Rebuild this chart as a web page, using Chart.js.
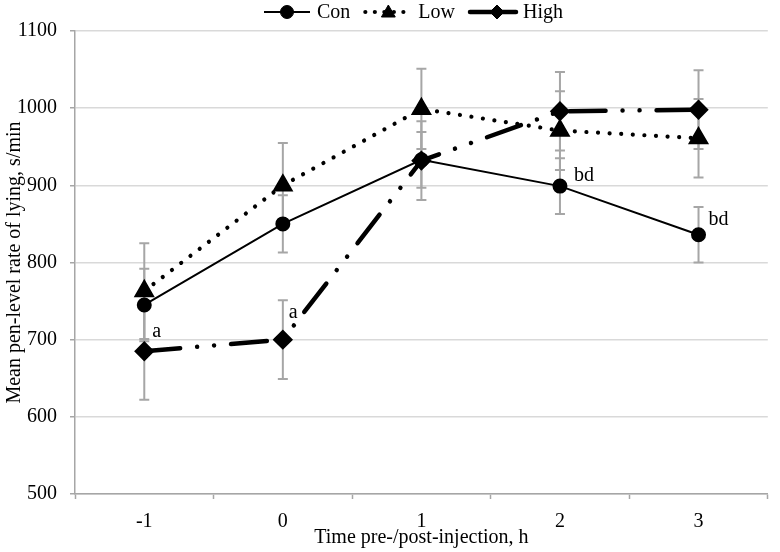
<!DOCTYPE html>
<html>
<head>
<meta charset="utf-8">
<script src="https://cdn.jsdelivr.net/npm/chart.js@4/dist/chart.umd.min.js"></script>
<style>
  html, body { margin: 0; padding: 0; background: #ffffff; }
  #wrap { width: 780px; height: 552px; position: relative; }
</style>
</head>
<body>
<div id="wrap"><canvas id="c" width="780" height="552"></canvas></div>
<script>
// ---- data ----
const timeLabels = ['-1', '0', '1', '2', '3'];
const seriesNames = ['Con', 'Low', 'High'];
const conValues  = [745, 850, 933, 899, 836];
const lowValues  = [763, 900, 999, 971, 961];
const highValues = [685, 700, 932, 996, 998];
const conErrors  = [47, 37, 36, 36, 36];
const lowErrors  = [62, 55, 52, 51, 51];
const highErrors = [63, 51, 51, 51, 51];
const conLetters  = ['', '', '', 'bd', 'bd'];
const lowLetters  = ['', '', '', '', ''];
const highLetters = ['a', 'a', '', '', ''];
const yTicks = [500, 600, 700, 800, 900, 1000, 1100];

const FONT = "'Liberation Serif', 'Times New Roman', serif";
const FS = 20;

// label offsets (style only)
const letterOffsets = {
  'High-0': [8, -14],
  'High-1': [6, -22],
  'Con-3': [14, -5],
  'Con-4': [10, -10]
};

const errorBarPlugin = {
  id: 'errorBars',
  beforeDatasetsDraw(chart) {
    const ctx = chart.ctx;
    const x = chart.scales.x, y = chart.scales.y;
    ctx.save();
    ctx.strokeStyle = '#a6a6a6';
    ctx.lineWidth = 2;
    chart.data.datasets.forEach((ds) => {
      ds.errors.forEach((e, i) => {
        const v = ds.data[i];
        const px = x.getPixelForValue(i);
        const top = y.getPixelForValue(v + e);
        const bot = y.getPixelForValue(v - e);
        ctx.beginPath();
        ctx.moveTo(px, top); ctx.lineTo(px, bot);
        ctx.moveTo(px - 5, top); ctx.lineTo(px + 5, top);
        ctx.moveTo(px - 5, bot); ctx.lineTo(px + 5, bot);
        ctx.stroke();
      });
    });
    ctx.restore();
  },
  afterDatasetsDraw(chart) {
    const ctx = chart.ctx;
    const x = chart.scales.x, y = chart.scales.y;
    ctx.save();
    ctx.fillStyle = '#000';
    ctx.font = FS + 'px ' + FONT;
    ctx.textAlign = 'left';
    ctx.textBaseline = 'alphabetic';
    chart.data.datasets.forEach((ds) => {
      ds.letters.forEach((t, i) => {
        if (!t) return;
        const off = letterOffsets[ds.label + '-' + i] || [8, -10];
        ctx.fillText(t, x.getPixelForValue(i) + off[0], y.getPixelForValue(ds.data[i]) + off[1]);
      });
    });
    ctx.restore();
  }
};

const legendPlugin = {
  id: 'customLegend',
  afterDraw(chart) {
    const ctx = chart.ctx;
    ctx.save();
    ctx.font = FS + 'px ' + FONT;
    let xPos = 264;
    const yc = 12;
    chart.data.datasets.forEach((ds) => {
      const w = 46;
      ctx.save();
      ctx.strokeStyle = '#000';
      ctx.lineWidth = ds.borderWidth;
      ctx.lineCap = ds.borderCapStyle || 'butt';
      ctx.setLineDash(ds.legendDash || []);
      ctx.beginPath();
      ctx.moveTo(xPos, yc); ctx.lineTo(xPos + w, yc);
      ctx.stroke();
      ctx.restore();
      ctx.save();
      ctx.fillStyle = '#000';
      ctx.strokeStyle = '#000';
      ctx.lineWidth = 1;
      Chart.helpers.drawPoint(ctx, {
        pointStyle: ds.pointStyle, radius: ds.pointRadius, rotation: 0, borderWidth: 1
      }, xPos + w / 2 + (ds.legendMarkerShift || 0), yc + (ds.pointStyle === 'triangle' ? 1 : 0));
      ctx.restore();
      ctx.fillStyle = '#000';
      ctx.textBaseline = 'middle';
      ctx.textAlign = 'left';
      ctx.fillText(ds.label, xPos + w + 7, yc + 1);
      xPos += w + 7 + ctx.measureText(ds.label).width + 15;
    });
    ctx.restore();
  }
};

const datasets = [
  {
    label: seriesNames[0], data: conValues, errors: conErrors, letters: conLetters,
    borderColor: '#000', backgroundColor: '#000', borderWidth: 2,
    pointStyle: 'circle', pointRadius: 6.5, pointBackgroundColor: '#000', pointBorderColor: '#000',
    tension: 0, order: 1
  },
  {
    label: seriesNames[1], data: lowValues, errors: lowErrors, letters: lowLetters,
    borderColor: '#000', backgroundColor: '#000', borderWidth: 4.2,
    borderDash: [0.01, 11.6], borderCapStyle: 'round', legendDash: [0.01, 9.5],
    pointStyle: 'triangle', pointRadius: 8, pointBackgroundColor: '#000', pointBorderColor: '#000',
    tension: 0, order: 2
  },
  {
    label: seriesNames[2], data: highValues, errors: highErrors, letters: highLetters,
    borderColor: '#000', backgroundColor: '#000', borderWidth: 4.5,
    borderDash: [36, 17, 0.01, 17, 0.01, 17], borderCapStyle: 'round', legendDash: [],
    legendMarkerShift: 4,
    pointStyle: 'rectRot', pointRadius: 7, pointBackgroundColor: '#000', pointBorderColor: '#000',
    tension: 0, order: 3
  }
];

new Chart(document.getElementById('c'), {
  type: 'line',
  data: { labels: timeLabels, datasets: datasets },
  options: {
    responsive: false,
    animation: false,
    devicePixelRatio: 1,
    layout: { padding: { top: 31, right: 2, left: 0, bottom: 0 } },
    plugins: { legend: { display: false }, tooltip: { enabled: false } },
    scales: {
      x: {
        type: 'category',
        offset: true,
        grid: { offset: true, drawOnChartArea: false, drawTicks: true, tickLength: 5, tickColor: '#a6a6a6', tickWidth: 1.5 },
        border: { color: '#a6a6a6', width: 1.5 },
        ticks: { color: '#000', font: { family: FONT, size: FS }, padding: 11, maxRotation: 0 },
        title: { display: true, text: 'Time pre-/post-injection, h', color: '#000', font: { family: FONT, size: FS }, padding: { top: 0, bottom: 2 } },
        afterFit(scale) { scale.height = 58; }
      },
      y: {
        min: 500, max: 1100,
        afterBuildTicks(scale) { scale.ticks = yTicks.map(v => ({ value: v })); },
        grid: { color: '#d9d9d9', lineWidth: 1.5, drawTicks: true, tickLength: 5, tickColor: '#a6a6a6' },
        border: { color: '#a6a6a6', width: 1.5 },
        ticks: { color: '#000', font: { family: FONT, size: FS }, padding: 13, callback: (v) => String(v) },
        title: { display: true, text: 'Mean pen-level rate of lying, s/min', color: '#000', font: { family: FONT, size: FS }, padding: { top: 3, bottom: 0 } },
        afterFit(scale) { scale.width = 75; }
      }
    }
  },
  plugins: [errorBarPlugin, legendPlugin]
});
</script>
</body>
</html>
